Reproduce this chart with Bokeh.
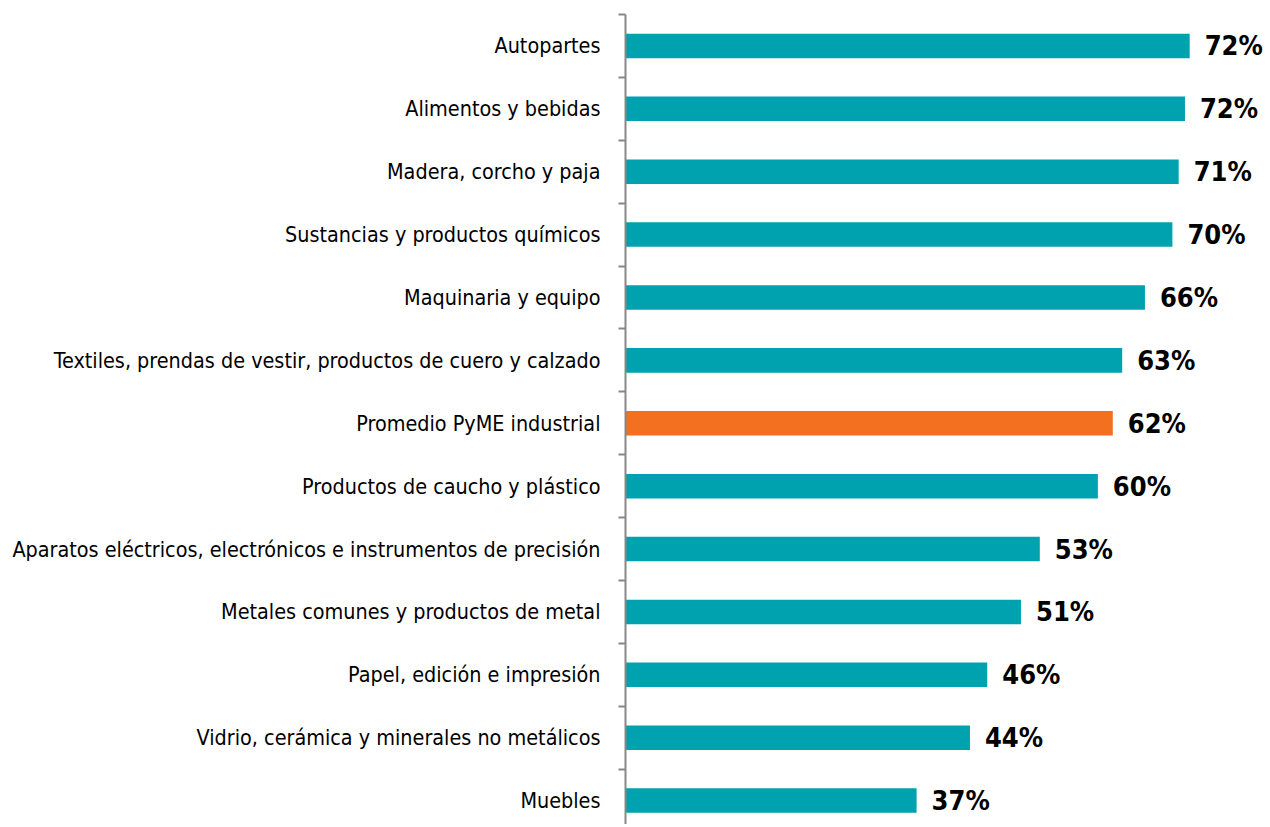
from bokeh.plotting import figure
from bokeh.models import ColumnDataSource, Range1d, FixedTicker
from bokeh.core.properties import value
from bokeh.embed import file_html
from bokeh.resources import INLINE

categories = [
    "Autopartes",
    "Alimentos y bebidas",
    "Madera, corcho y paja",
    "Sustancias y productos químicos",
    "Maquinaria y equipo",
    "Textiles, prendas de vestir, productos de cuero y calzado",
    "Promedio PyME industrial",
    "Productos de caucho y plástico",
    "Aparatos eléctricos, electrónicos e instrumentos de precisión",
    "Metales comunes y productos de metal",
    "Papel, edición e impresión",
    "Vidrio, cerámica y minerales no metálicos",
    "Muebles",
]
values = [71.9, 71.3, 70.5, 69.7, 66.2, 63.3, 62.1, 60.2, 52.8, 50.4, 46.1, 43.9, 37.1]
value_labels = ["72%", "72%", "71%", "70%", "66%", "63%", "62%", "60%", "53%", "51%", "46%", "44%", "37%"]
highlight = "Promedio PyME industrial"

TEAL = "#00A2AF"
ORANGE = "#F37021"
FONT = "DejaVu Sans Condensed"

ypos = list(range(len(categories)))
colors = [ORANGE if c == highlight else TEAL for c in categories]

src = ColumnDataSource(dict(y=ypos, v=values, lab=value_labels, color=colors))

p = figure(
    width=1270, height=824,
    x_range=Range1d(0, 82.2),
    y_range=Range1d(12.38, -0.5),
    output_backend="svg", toolbar_location=None,
    x_axis_location=None,
    min_border_left=625, min_border_right=0, min_border_top=14, min_border_bottom=0,
)
p.outline_line_color = None
p.xgrid.visible = False
p.ygrid.visible = False

p.hbar(y="y", left=0, right="v", height=0.39, color="color", line_color=None, source=src)

p.text(x="v", y="y", text="lab", source=src, x_offset=15,
       text_font=value(FONT), text_font_style="bold", text_font_size="27px",
       text_baseline="middle", text_align="left", text_color="#000000")

ax = p.yaxis[0]
ax.ticker = FixedTicker(ticks=ypos, minor_ticks=[i - 0.5 for i in range(len(categories) + 1)])
ax.major_label_overrides = {i: c for i, c in enumerate(categories)}
ax.major_tick_out = 0
ax.major_tick_in = 0
ax.minor_tick_out = 7
ax.minor_tick_in = 0
ax.minor_tick_line_color = "#888888"
ax.minor_tick_line_width = 2
ax.axis_line_color = "#888888"
ax.axis_line_width = 2
ax.major_label_standoff = 18
ax.major_label_text_font = FONT
ax.major_label_text_font_size = "21.4px"
ax.major_label_text_color = "#000000"

open("out.html", "w").write(file_html(p, INLINE))
